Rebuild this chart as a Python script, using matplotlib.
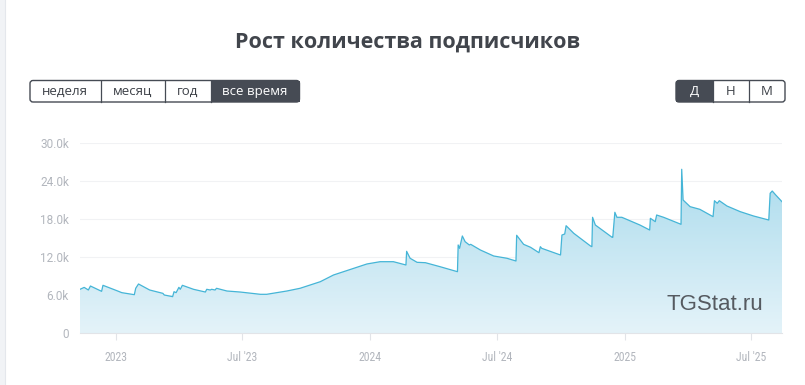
import numpy as np
import pandas as pd
import matplotlib
matplotlib.use("Agg")
import matplotlib.pyplot as plt
import matplotlib.dates as mdates
from matplotlib.patches import Rectangle, FancyBboxPatch
from matplotlib.colors import LinearSegmentedColormap

# subscriber counts
dates = [
    "2022-11-10", "2022-11-16", "2022-11-22", "2022-11-25", "2022-12-11", "2022-12-13",
    "2023-01-02", "2023-01-09", "2023-01-27", "2023-01-29", "2023-02-02", "2023-02-18",
    "2023-03-09", "2023-03-11", "2023-03-23", "2023-03-25", "2023-03-28", "2023-04-01",
    "2023-04-03", "2023-04-06", "2023-04-22", "2023-05-09", "2023-05-11", "2023-05-16",
    "2023-05-18", "2023-05-23", "2023-05-25", "2023-06-09", "2023-06-28", "2023-07-27",
    "2023-08-05", "2023-09-03", "2023-09-22", "2023-10-21", "2023-11-09", "2023-12-27",
    "2024-01-15", "2024-02-03", "2024-02-21", "2024-02-22", "2024-02-27", "2024-03-08",
    "2024-03-20", "2024-04-10", "2024-05-05", "2024-05-06", "2024-05-08", "2024-05-12",
    "2024-05-16", "2024-05-22", "2024-05-24", "2024-06-07", "2024-06-26", "2024-07-15",
    "2024-07-28", "2024-07-29", "2024-08-08", "2024-08-18", "2024-08-30", "2024-09-01",
    "2024-09-03", "2024-09-27", "2024-09-30", "2024-10-02", "2024-10-06", "2024-10-08",
    "2024-10-19", "2024-11-12", "2024-11-14", "2024-11-15", "2024-11-19", "2024-12-13",
    "2024-12-14", "2024-12-17", "2024-12-20", "2024-12-27", "2025-01-22", "2025-02-05",
    "2025-02-06", "2025-02-13", "2025-02-15", "2025-02-25", "2025-03-22", "2025-03-23",
    "2025-03-25", "2025-04-04", "2025-04-18", "2025-05-07", "2025-05-09", "2025-05-13",
    "2025-05-16", "2025-05-27", "2025-06-15", "2025-07-04", "2025-07-26", "2025-07-28",
    "2025-07-31", "2025-08-05", "2025-08-14",
]
subs = [
    6900, 7200, 6790, 7420, 6580, 7530,
    6680, 6370, 6050, 7060, 7740, 6790,
    6260, 6000, 5740, 6520, 6370, 7210,
    6900, 7530, 6900, 6470, 6900, 6790,
    6900, 6790, 7060, 6630, 6470, 6110,
    6110, 6630, 7060, 8100, 9160, 10900,
    11260, 11260, 10740, 12900, 11800, 11160,
    11100, 10470, 9680, 13900, 13370, 15320,
    14420, 13900, 14000, 13100, 12160, 11800,
    11370, 15430, 14000, 13530, 12680, 13630,
    13370, 12430, 12320, 15470, 15630, 16940,
    15740, 13740, 13630, 18270, 17050, 15110,
    15110, 19060, 18270, 18270, 17050, 16260,
    18110, 17580, 18630, 18270, 17160, 25850,
    21000, 19950, 19530, 18370, 20890, 20480,
    20890, 20050, 19160, 18480, 17840, 22060,
    22420, 21790, 20730,
]

y_ticks = [0, 6000, 12000, 18000, 24000, 30000]
y_labels = ["0", "6.0k", "12.0k", "18.0k", "24.0k", "30.0k"]
x_ticks = ["2023-01-01", "2023-07-01", "2024-01-01", "2024-07-01", "2025-01-01", "2025-07-01"]
x_labels = ["2023", "Jul '23", "2024", "Jul '24", "2025", "Jul '25"]

title = "Рост количества подписчиков"
period_buttons = ["неделя", "месяц", "год", "все время"]
period_edges = [30, 100.5, 164.5, 210.5, 299.5]
scale_buttons = ["Д", "Н", "М"]
scale_edges = [676, 712.5, 748.5, 785]

W, H = 805, 385
plt.rcParams["font.family"] = ["Open Sans", "DejaVu Sans"]
fig = plt.figure(figsize=(W / 100, H / 100), dpi=100)

# overlay in pixel coordinates for the page furniture
bg = fig.add_axes([0, 0, 1, 1])
bg.set_xlim(0, W)
bg.set_ylim(H, 0)
bg.axis("off")
bg.add_patch(Rectangle((0, 0), 5, H, color="#f1f3f6", lw=0))
bg.plot([5, 5], [0, H], color="#e4e7ec", lw=0.8)

bg.text(408, 42, title, ha="center", va="center", fontsize=15.5,
        fontweight="bold", color="#41454c")

dark = "#464b54"


def button_group(labels, edges, active):
    x0, x1 = edges[0], edges[-1]
    y0, y1 = 80.5, 102
    i = active
    bg.add_patch(Rectangle((edges[i], y0), edges[i + 1] - edges[i], y1 - y0,
                           color=dark, lw=0))
    bg.add_patch(FancyBboxPatch((x0, y0), x1 - x0, y1 - y0,
                                boxstyle="round,pad=0,rounding_size=3",
                                fc="none", ec=dark, lw=1.0))
    for e in edges[1:-1]:
        bg.plot([e, e], [y0, y1], color=dark, lw=0.9)
    for k, lab in enumerate(labels):
        cx = (edges[k] + edges[k + 1]) / 2
        bg.text(cx, 91.5, lab, ha="center", va="center", fontsize=9.5,
                color="white" if k == active else "#3c4047")


button_group(period_buttons, period_edges, 3)
button_group(scale_buttons, scale_edges, 0)

# chart
x = pd.to_datetime(dates)
y = np.array(subs)

ax = fig.add_axes([80 / W, 52 / H, 702 / W, 190 / H])
ax.patch.set_alpha(0)
ax.set_axisbelow(True)

poly = ax.fill_between(x, 0, y, color="none", lw=0)
grad = np.linspace(0, 1, 256).reshape(-1, 1)
cmap = LinearSegmentedColormap.from_list("g", ["#e4f3f9", "#a3d8eb"])
xn = mdates.date2num(x)
im = ax.imshow(grad, cmap=cmap, aspect="auto", origin="lower",
               extent=[xn[0], xn[-1], 0, 30000], zorder=1)
im.set_clip_path(poly.get_paths()[0], transform=ax.transData)
ax.set_xlim(x[0], x[-1])
ax.set_ylim(0, 30000)
ax.plot(x, y, color="#45b5d7", lw=0.9, zorder=3)

ax.set_yticks(y_ticks)
ax.set_yticklabels(y_labels, family=["Roboto", "DejaVu Sans"])
ax.set_xticks(pd.to_datetime(x_ticks))
ax.set_xticklabels(x_labels, family=["Roboto Condensed", "Roboto", "DejaVu Sans"])
for t in ax.get_yticklabels():
    t.set_color("#b2b6bd")
    t.set_fontsize(8.5)
for t in ax.get_xticklabels():
    t.set_color("#b2b6bd")
    t.set_fontsize(8.5)
ax.tick_params(axis="y", length=0, pad=8)
ax.tick_params(axis="x", length=5, color="#e2e4e8", pad=8)
ax.grid(axis="y", color="#f1f2f4", lw=0.8)
for s in ["top", "right", "left"]:
    ax.spines[s].set_visible(False)
ax.spines["bottom"].set_color("#e2e4e8")
ax.spines["bottom"].set_zorder(4)

fig.text(715 / W, 1 - 304 / H, "TGStat.ru", ha="center", va="center", fontsize=16,
         family=["Liberation Sans", "DejaVu Sans"], color="#555a60", zorder=5)

fig.savefig("out.png", dpi=100)
